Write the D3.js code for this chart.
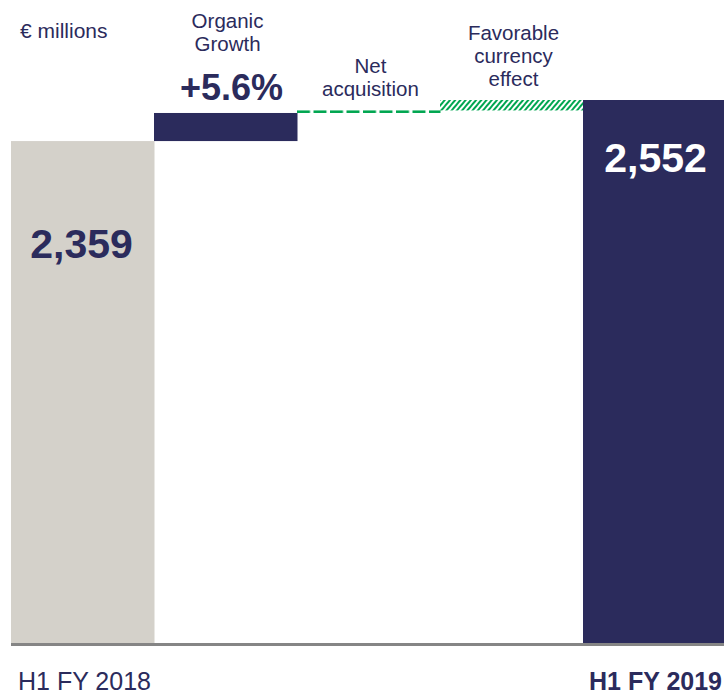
<!DOCTYPE html>
<html lang="en">
<head>
    <meta charset="UTF-8">
    <title>Sales bridge H1 FY 2018 - H1 FY 2019</title>
    <script src="https://d3js.org/d3.v7.js"></script>
    <style>
        body {
            margin: 0;
            background: #fff;
        }
        svg {
            display: block;
            font-family: "Liberation Sans", Arial, sans-serif;
        }
        .step-label {
            fill: #2b2b5c;
            font-size: 20.5px;
        }
    </style>
</head>
<body>
    <svg width="724" height="696"></svg>
    <script>
        // data
        const categories = ["H1 FY 2018", "Organic Growth", "Net acquisition", "Favorable currency effect", "H1 FY 2019"];
        const values = [2359, 132, 12, 49, 2552];
        const kinds = ["total", "step", "step", "step", "total"];
        const stepLines = [[], ["Organic", "Growth"], ["Net", "acquisition"], ["Favorable", "currency", "effect"], []];
        const growthLabel = "+5.6%";
        const unitLabel = "€ millions";

        const navy = "#2b2b5c";
        const green = "#00a650";

        const width = 724;
        const height = 696;
        const margins = { top: 100, bottom: 53, left: 11, right: -2 };

        const svg = d3.select("svg");

        const defs = svg.append("defs");
        const hatch = defs.append("pattern")
            .attr("id", "hatch")
            .attr("patternUnits", "userSpaceOnUse")
            .attr("width", 4)
            .attr("height", 4)
            .attr("patternTransform", "rotate(40)");
        hatch.append("rect").attr("width", 4).attr("height", 4).attr("fill", "#fff");
        hatch.append("rect").attr("width", 2).attr("height", 4).attr("fill", green);

        const dash = defs.append("pattern")
            .attr("id", "dash")
            .attr("patternUnits", "userSpaceOnUse")
            .attr("x", 297)
            .attr("width", 16.5)
            .attr("height", 10);
        dash.append("rect").attr("width", 16.5).attr("height", 10).attr("fill", "#fff");
        dash.append("rect").attr("width", 13).attr("height", 10).attr("fill", green);

        // running totals for the bridge
        let running = 0;
        const bars = categories.map((c, i) => {
            let y0, y1;
            if (kinds[i] === "total") {
                y0 = 0; y1 = values[i]; running = values[i];
            } else {
                y0 = running; y1 = running + values[i]; running = y1;
            }
            return { cat: c, i: i, y0: y0, y1: y1, value: values[i] };
        });

        const xScale = d3.scaleBand()
            .domain(categories)
            .range([margins.left, width - margins.right])
            .padding(0);

        const yScale = d3.scaleLinear()
            .domain([0, values[4]])
            .range([height - margins.bottom, margins.top]);

        const fills = ["#d4d1ca", navy, "url(#dash)", "url(#hatch)", navy];

        svg.append("g")
            .selectAll("rect")
            .data(bars)
            .enter()
            .append("rect")
            .attr("x", d => xScale(d.cat))
            .attr("width", xScale.bandwidth() + 0.5)
            .attr("y", d => yScale(d.y1))
            .attr("height", d => yScale(d.y0) - yScale(d.y1))
            .attr("fill", (d, i) => fills[i]);

        // baseline
        svg.append("line")
            .attr("x1", margins.left)
            .attr("x2", width)
            .attr("y1", yScale(0) + 1.5)
            .attr("y2", yScale(0) + 1.5)
            .attr("stroke", "#858585")
            .attr("stroke-width", 3);

        const cx = d => xScale(d.cat) + xScale.bandwidth() / 2;

        // step captions above the bars
        const stepBars = bars.filter(d => kinds[d.i] === "step");
        stepBars.forEach(d => {
            const lines = stepLines[d.i];
            const top = yScale(d.y1);
            let last = top - 14;
            if (d.i === 1) last = 51;
            const t = svg.append("text")
                .attr("class", "step-label")
                .attr("text-anchor", "middle")
                .attr("x", cx(d) + 2);
            lines.forEach((l, k) => {
                t.append("tspan")
                    .attr("x", cx(d) + 2)
                    .attr("y", last - (lines.length - 1 - k) * 23)
                    .text(l);
            });
        });

        svg.append("text")
            .attr("x", cx(bars[1]) + 6)
            .attr("y", yScale(bars[1].y1) - 13)
            .attr("text-anchor", "middle")
            .attr("fill", navy)
            .attr("font-size", 36)
            .attr("font-weight", "bold")
            .text(growthLabel);

        // totals
        const fmt = d3.format(",");
        svg.append("text")
            .attr("x", cx(bars[0]) - 1)
            .attr("y", yScale(bars[0].y1) + 117)
            .attr("text-anchor", "middle")
            .attr("fill", navy)
            .attr("font-size", 41)
            .attr("font-weight", "bold")
            .text(fmt(values[0]));

        svg.append("text")
            .attr("x", cx(bars[4]) + 1)
            .attr("y", yScale(bars[4].y1) + 72)
            .attr("text-anchor", "middle")
            .attr("fill", "#fff")
            .attr("font-size", 41)
            .attr("font-weight", "bold")
            .text(fmt(values[4]));

        // unit
        svg.append("text")
            .attr("x", 20)
            .attr("y", 38)
            .attr("fill", navy)
            .attr("font-size", 21)
            .text(unitLabel);

        // category labels under the axis
        svg.append("text")
            .attr("x", 18)
            .attr("y", 690)
            .attr("fill", navy)
            .attr("font-size", 25)
            .text(categories[0]);

        svg.append("text")
            .attr("x", 722)
            .attr("y", 690)
            .attr("text-anchor", "end")
            .attr("fill", navy)
            .attr("font-size", 25)
            .attr("font-weight", "bold")
            .text(categories[4]);
    </script>
</body>
</html>
